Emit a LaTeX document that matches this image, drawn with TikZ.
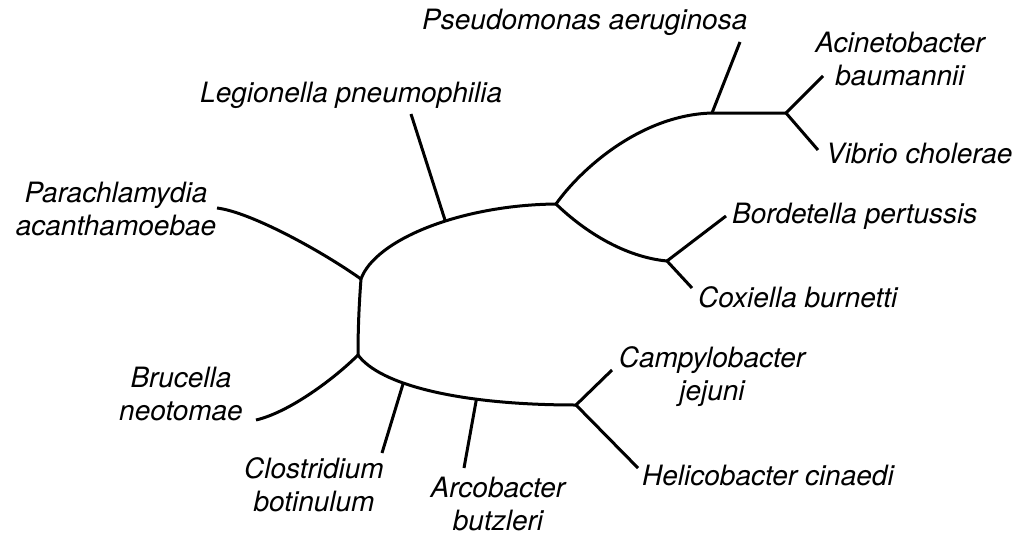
\documentclass[tikz,border=0pt]{standalone}
\usepackage{fontspec}
\setmainfont{TeX Gyre Heros}
\begin{document}
\begin{tikzpicture}[x=1pt,y=-1pt,
  branch/.style={line width=3pt, black, line join=round},
  lbl/.style={inner sep=0pt, font=\itshape\fontsize{28}{33}\selectfont},
]
\useasboundingbox (0,0) rectangle (1020,536);
% junctions
\coordinate (A) at (361,279);
\coordinate (B) at (358,355);
\coordinate (C) at (556,204);
\coordinate (D) at (667,261);
\coordinate (E) at (576,405);
\coordinate (P) at (712,113);
\coordinate (Q) at (786,113);
% free ends of leaf branches
\coordinate (tPara) at (217,208);
\coordinate (tLeg) at (411,114);
\coordinate (tPseu) at (740,42);
\coordinate (tAcin) at (823,76);
\coordinate (tVib) at (818,150);
\coordinate (tBord) at (726,216);
\coordinate (tCox) at (692,288);
\coordinate (tCamp) at (612,370);
\coordinate (tHeli) at (638,468);
\coordinate (tArco) at (464,468);
\coordinate (tClos) at (382,453);
\coordinate (tBruc) at (256,420);

% tree
\draw[branch] (A) .. controls (359,305) and (358,330) .. (B);
\draw[branch] (A) .. controls (375,240) and (460,205) .. (C) coordinate[pos=0.58] (L);
\draw[branch] (L) -- (tLeg);
\draw[branch] (A) .. controls (320,250) and (250,212) .. (tPara);
\draw[branch] (C) .. controls (580,170) and (640,115) .. (P) -- (Q);
\draw[branch] (P) -- (tPseu);
\draw[branch] (tAcin) -- (Q) -- (tVib);
\draw[branch] (C) .. controls (585,232) and (625,257) .. (D);
\draw[branch] (tBord) -- (D) -- (tCox);
\draw[branch] (B) .. controls (380,385) and (460,405) .. (E) coordinate[pos=0.36] (K) coordinate[pos=0.68] (R);
\draw[branch] (K) -- (tClos);
\draw[branch] (R) -- (tArco);
\draw[branch] (tCamp) -- (E) -- (tHeli);
\draw[branch] (B) .. controls (335,378) and (290,412) .. (tBruc);

% labels
\node[lbl, anchor=base west] (nLeg) at (200,102) {Legionella pneumophilia};
\node[lbl, anchor=base west] (nPseu) at (422,29) {Pseudomonas aeruginosa};
\node[lbl, anchor=base west] (nVib) at (826,163) {Vibrio cholerae};
\node[lbl, anchor=base west] (nBord) at (732,223) {Bordetella pertussis};
\node[lbl, anchor=base west] (nCox) at (698,307) {Coxiella burnetti};
\node[lbl, anchor=base west] (nHeli) at (642,485) {Helicobacter cinaedi};
\node[lbl, anchor=base] (nPara) at (116,202) {\begin{tabular}[t]{@{}c@{}}Parachlamydia\\acanthamoebae\end{tabular}};
\node[lbl, anchor=base] (nAcin) at (900,52) {\begin{tabular}[t]{@{}c@{}}Acinetobacter\\baumannii\end{tabular}};
\node[lbl, anchor=base] (nBruc) at (181,387) {\begin{tabular}[t]{@{}c@{}}Brucella\\neotomae\end{tabular}};
\node[lbl, anchor=base] (nClos) at (314,478) {\begin{tabular}[t]{@{}c@{}}Clostridium\\botinulum\end{tabular}};
\node[lbl, anchor=base] (nArco) at (498,497) {\begin{tabular}[t]{@{}c@{}}Arcobacter\\butzleri\end{tabular}};
\node[lbl, anchor=base] (nCamp) at (712,367) {\begin{tabular}[t]{@{}c@{}}Campylobacter\\jejuni\end{tabular}};
\end{tikzpicture}
\end{document}
